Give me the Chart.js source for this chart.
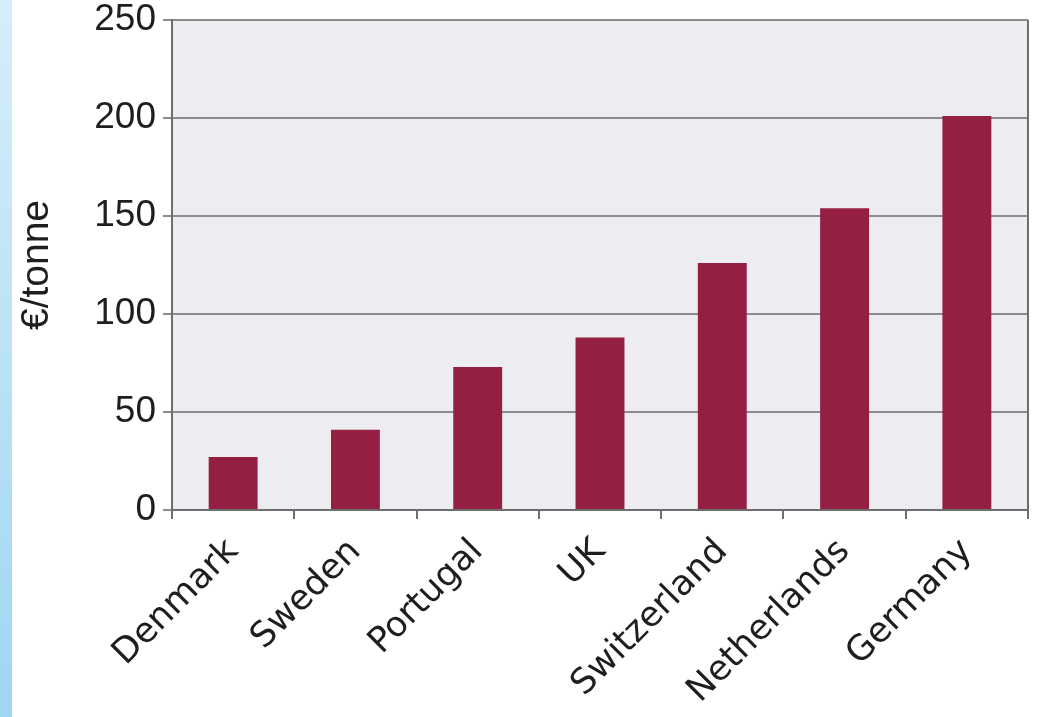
<!DOCTYPE html>
<html>
<head>
<meta charset="utf-8">
<script src="https://cdn.jsdelivr.net/npm/chart.js@4"></script>
<style>
html,body{margin:0;padding:0;background:#fff;}
#wrap{width:1048px;height:717px;position:relative;}
</style>
</head>
<body>
<div id="wrap"><canvas id="c" width="1048" height="717"></canvas></div>
<script>
const categories = ["Denmark", "Sweden", "Portugal", "UK", "Switzerland", "Netherlands", "Germany"];
const values = [27, 41, 73, 88, 126, 154, 201];
const yTicks = [0, 50, 100, 150, 200, 250];
const yTitle = "€/tonne";

const PLOT_LEFT = 172, PLOT_RIGHT = 1028, PLOT_TOP = 20, PLOT_BOTTOM = 510;
const W = 1048, H = 717;
const PAD_L = 8;

const bgPlugin = {
  id: 'bg',
  beforeDraw(chart) {
    const ctx = chart.ctx;
    ctx.save();
    ctx.fillStyle = '#ffffff';
    ctx.fillRect(0, 0, W, H);
    const g = ctx.createLinearGradient(0, 0, 0, H);
    g.addColorStop(0, '#d6eef9');
    g.addColorStop(1, '#9fd6f2');
    ctx.fillStyle = g;
    ctx.fillRect(0, 0, 12, H);
    const a = chart.chartArea;
    ctx.fillStyle = '#ededf1';
    ctx.fillRect(a.left, a.top, a.right - a.left, a.bottom - a.top);
    ctx.restore();
  },
  afterDraw(chart) {
    const ctx = chart.ctx, a = chart.chartArea;
    ctx.save();
    ctx.strokeStyle = '#6e6e6e';
    ctx.lineWidth = 2;
    ctx.beginPath();
    ctx.moveTo(a.right, a.top);
    ctx.lineTo(a.right, a.bottom);
    ctx.stroke();
    ctx.restore();
  }
};

new Chart(document.getElementById('c'), {
  type: 'bar',
  data: {
    labels: categories,
    datasets: [{
      data: values,
      backgroundColor: '#951f43',
      borderWidth: 0,
      barPercentage: 0.4,
      categoryPercentage: 1.0
    }]
  },
  plugins: [bgPlugin],
  options: {
    responsive: false,
    animation: false,
    devicePixelRatio: 1,
    layout: { padding: { left: PAD_L, top: PLOT_TOP, right: W - PLOT_RIGHT, bottom: 0 } },
    plugins: { legend: { display: false }, tooltip: { enabled: false } },
    scales: {
      x: {
        offset: true,
        afterFit(s) { s.height = H - PLOT_BOTTOM; s.paddingLeft = 0; s.paddingRight = 0; },
        grid: { offset: true, drawOnChartArea: false, drawTicks: true, tickLength: 9, color: '#6e6e6e', lineWidth: 2 },
        border: { display: true, color: '#6e6e6e', width: 2 },
        ticks: {
          minRotation: 45, maxRotation: 45, autoSkip: false,
          color: '#1e1e1e', padding: 12,
          font: { family: 'DejaVu Sans', size: 35 }
        }
      },
      y: {
        min: 0, max: 250,
        afterFit(s) { s.width = PLOT_LEFT - PAD_L; s.paddingTop = 0; s.paddingBottom = 0; },
        afterBuildTicks(s) { s.ticks = yTicks.map(v => ({ value: v })); },
        grid: { color: '#8c8c8c', lineWidth: 2, tickLength: 9, drawTicks: true },
        border: { display: true, color: '#6e6e6e', width: 2 },
        ticks: {
          color: '#1e1e1e', padding: 7,
          font: { family: 'Liberation Sans', size: 37 }
        },
        title: {
          display: true, text: yTitle, color: '#1e1e1e',
          font: { family: 'Liberation Sans', size: 39 },
          padding: { top: 6, bottom: 0 }
        }
      }
    }
  }
});
</script>
</body>
</html>
